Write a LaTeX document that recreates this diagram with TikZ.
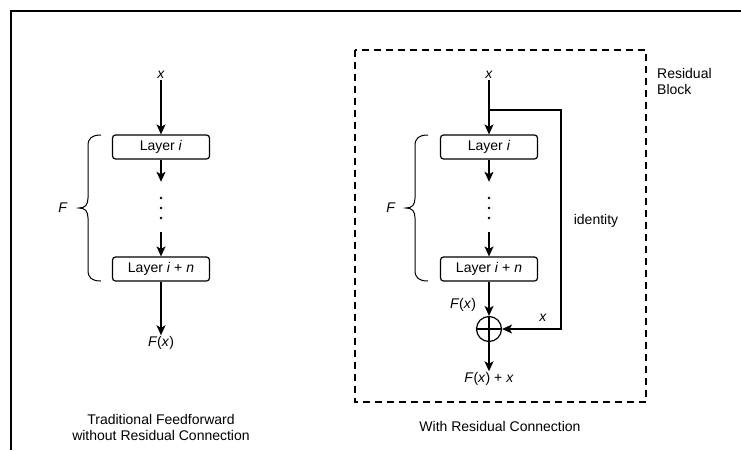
\documentclass[tikz,border=0pt]{standalone}
\usepackage{fontspec}
\setmainfont{Liberation Sans}
\usetikzlibrary{arrows.meta}
\begin{document}
\begin{tikzpicture}[x=1pt,y=-1pt,
  every node/.style={font=\fontsize{14}{16}\selectfont, inner sep=1pt},
  arr/.style={line width=1.3pt, -{Stealth[length=10pt,width=9pt,inset=2.5pt]}},
  plain/.style={line width=1.3pt},
  layerbox/.style={draw, line width=1.2pt, rounded corners=3pt, minimum width=97pt, minimum height=24pt, inner sep=0pt},
  txt/.style={align=center},
  dotgap/.style={minimum height=50pt, minimum width=6pt, inner sep=0pt}
]
\useasboundingbox (0,0) rectangle (741,450);
% outer frame (top and left edges only visible)
\draw[line width=2pt] (741,11) -- (11,11) -- (11,450);

% ---------- left diagram ----------
\node (lx) at (161,75) {\textit{x}};
\node[layerbox] (l1) at (161,147) {Layer \textit{i}};
\node[dotgap] (ldots) at (161,207) {};
\node[layerbox] (l2) at (161,269) {Layer \textit{i} + \textit{n}};
\node (lfx) at (161,343) {\textit{F}(\textit{x})};
\draw[arr] (lx) -- (l1);
\draw[arr] (l1) -- (ldots.north);
\draw[arr] (ldots.south) -- (l2);
\draw[arr] (l2) -- (lfx);
\foreach \yy in {198,208,218} \fill (161,\yy) circle (1.3pt);
\draw[plain, line width=1pt] (101,135) .. controls (92,135) and (88,138) .. (88,146) -- (88,198)
  .. controls (88,205) and (85,208) .. (79,208) .. controls (85,208) and (88,211) .. (88,218)
  -- (88,270) .. controls (88,278) and (92,281) .. (101,281);
\node (lF) at (63,208) {\textit{F}};
\node[txt] (lcap) at (161,427) {Traditional Feedforward\\without Residual Connection};

% ---------- right diagram ----------
\draw[line width=2.5pt, dash pattern=on 7pt off 5pt] (355,50) rectangle (646,402);
\node[anchor=west, align=left] (rb) at (656,81) {Residual\\Block};
\node (rx) at (489,75) {\textit{x}};
\coordinate (br) at (489,110);
\coordinate (corner) at (561,110);
\node[layerbox] (r1) at (489,147) {Layer \textit{i}};
\node[dotgap] (rdots) at (489,207) {};
\node[layerbox] (r2) at (489,269) {Layer \textit{i} + \textit{n}};
\node[draw, circle, line width=1.2pt, minimum size=25pt, inner sep=0pt] (plus) at (489,329) {};
\draw[line width=1.2pt] (plus.north) -- (plus.south) (plus.west) -- (plus.east);
\node (rfx) at (489,379) {\textit{F}(\textit{x}) + \textit{x}};
\draw[arr] (rx) -- (r1);
\draw[arr] (r1) -- (rdots.north);
\draw[arr] (rdots.south) -- (r2);
\draw[arr] (r2) -- (plus.north);
\draw[arr] (plus.south) -- (rfx);
\draw[arr] (br) -- (corner) |- (plus.east);
\foreach \yy in {198,208,218} \fill (489,\yy) circle (1.3pt);
\draw[plain, line width=1pt] (428,135) .. controls (419,135) and (415,138) .. (415,146) -- (415,198)
  .. controls (415,205) and (412,208) .. (406,208) .. controls (412,208) and (415,211) .. (415,218)
  -- (415,270) .. controls (415,278) and (419,281) .. (428,281);
\node (rF) at (391,208) {\textit{F}};
\node (rFx) at (463,305) {\textit{F}(\textit{x})};
\node (rxl) at (543,318) {\textit{x}};
\node (id) at (596,221) {identity};
\node (rcap) at (500,426) {With Residual Connection};
\end{tikzpicture}
\end{document}
